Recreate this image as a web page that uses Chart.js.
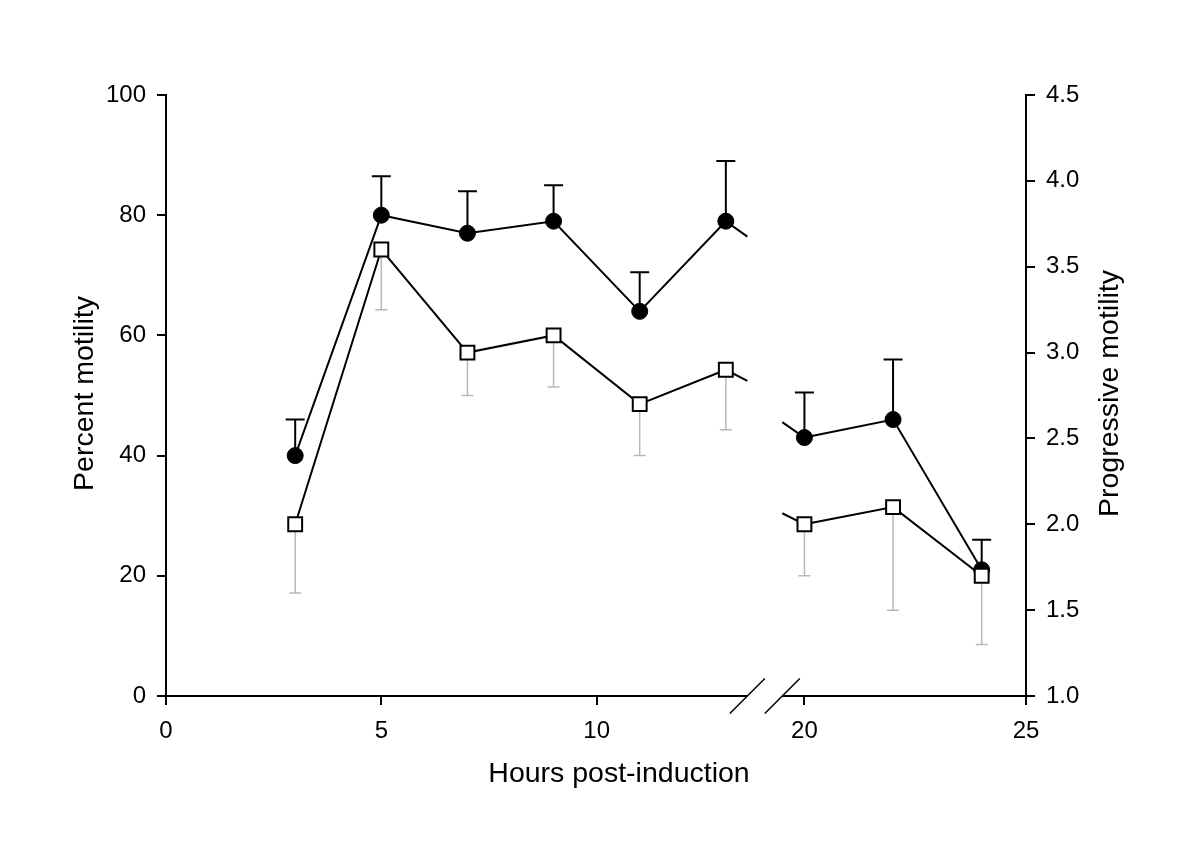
<!DOCTYPE html>
<html>
<head>
<meta charset="utf-8">
<title>Motility</title>
<script src="https://cdn.jsdelivr.net/npm/chart.js@4.4.1/dist/chart.umd.min.js"></script>
<style>
  html, body { margin: 0; padding: 0; background: #fff; }
</style>
</head>
<body>
<canvas id="motilityChart" width="1200" height="844"></canvas>
<script>
const hours = [3, 5, 7, 9, 11, 13, 20, 22, 24];
const percentMotility = [40, 80, 77, 79, 64, 79, 43, 46, 21];
const percentErr = [6, 6.5, 7, 6, 6.5, 10, 7.5, 10, 5];
const progressiveMotility = [2.0, 3.6, 3.0, 3.1, 2.7, 2.9, 2.0, 2.1, 1.7];
const progressiveErr = [0.4, 0.35, 0.25, 0.3, 0.3, 0.35, 0.3, 0.6, 0.4];
const hourTicks = [0, 5, 10, 20, 25];

// the x axis is cut between these two hours
const breakFrom = 13.5;
const breakTo = 19.5;

const FONT = "'Liberation Sans', Arial, sans-serif";

// linear scale with a gap in the middle
class BrokenLinearScale extends Chart.LinearScale {
    getPixelForValue(value) {
        if (value === null || isNaN(value)) return NaN;
        const leftPart = 0.676, gapPart = 0.0406;
        let f;
        if (value <= breakFrom) {
            f = (value - this.min) / (breakFrom - this.min) * leftPart;
        } else {
            f = leftPart + gapPart + (value - breakTo) / (this.max - breakTo) * (1 - leftPart - gapPart);
        }
        return this.getPixelForDecimal(f);
    }
}
BrokenLinearScale.id = 'brokenLinear';
BrokenLinearScale.defaults = Chart.LinearScale.defaults;
Chart.register(BrokenLinearScale);

const toPoints = (vals) => hours.map((h, i) => ({ x: h, y: vals[i] }));
const crossesBreak = (a, b) => a < breakFrom && b > breakTo;

const errorBarsAndBreak = {
    id: 'errorBarsAndBreak',
    beforeDatasetsDraw(chart) {
        const { ctx, scales } = chart;
        const x = scales.x;
        chart.data.datasets.forEach((ds, i) => {
            const meta = chart.getDatasetMeta(i);
            const yScale = scales[ds.yAxisID];
            // error bars go under the markers
            ctx.save();
            ctx.strokeStyle = ds.errorColor;
            ctx.lineWidth = ds.errorWidth;
            meta.data.forEach((pt, j) => {
                const v = ds.data[j].y;
                const yEnd = yScale.getPixelForValue(v + ds.errorDir * ds.errors[j]);
                ctx.beginPath();
                ctx.moveTo(pt.x, pt.y);
                ctx.lineTo(pt.x, yEnd);
                ctx.moveTo(pt.x - ds.capHalf, yEnd);
                ctx.lineTo(pt.x + ds.capHalf, yEnd);
                ctx.stroke();
            });
            ctx.restore();

            // line stubs on both sides of the break, with the real slope
            ctx.save();
            ctx.strokeStyle = ds.borderColor;
            ctx.lineWidth = ds.borderWidth;
            for (let j = 0; j < ds.data.length - 1; j++) {
                const a = ds.data[j], b = ds.data[j + 1];
                if (!crossesBreak(a.x, b.x)) continue;
                const slope = (b.y - a.y) / (b.x - a.x);
                ctx.beginPath();
                ctx.moveTo(x.getPixelForValue(a.x), yScale.getPixelForValue(a.y));
                ctx.lineTo(x.getPixelForValue(breakFrom), yScale.getPixelForValue(a.y + slope * (breakFrom - a.x)));
                ctx.moveTo(x.getPixelForValue(breakTo), yScale.getPixelForValue(b.y - slope * (b.x - breakTo)));
                ctx.lineTo(x.getPixelForValue(b.x), yScale.getPixelForValue(b.y));
                ctx.stroke();
            }
            ctx.restore();
        });
    },
    afterDraw(chart) {
        const { ctx, chartArea, scales } = chart;
        const x = scales.x;
        const gapL = x.getPixelForValue(breakFrom);
        const gapR = x.getPixelForValue(breakTo);
        const yb = chartArea.bottom;
        ctx.save();
        ctx.strokeStyle = '#000';
        ctx.lineWidth = 2;
        ctx.beginPath();
        ctx.moveTo(chartArea.left - 1, yb);
        ctx.lineTo(gapL, yb);
        ctx.moveTo(gapR, yb);
        ctx.lineTo(chartArea.right + 1, yb);
        ctx.stroke();
        ctx.lineWidth = 1.5;
        [gapL, gapR].forEach(px => {
            ctx.beginPath();
            ctx.moveTo(px - 17.5, yb + 17.5);
            ctx.lineTo(px + 17.5, yb - 17.5);
            ctx.stroke();
        });

        // axis titles
        ctx.fillStyle = '#000';
        ctx.font = '28.5px ' + FONT;
        ctx.textAlign = 'center';
        ctx.textBaseline = 'alphabetic';
        ctx.fillText('Hours post-induction', 619, 782);
        const midY = (chartArea.top + chartArea.bottom) / 2 - 2;
        ctx.textBaseline = 'middle';
        ctx.save();
        ctx.translate(85, midY);
        ctx.rotate(-Math.PI / 2);
        ctx.fillText('Percent motility', 0, 0);
        ctx.restore();
        ctx.save();
        ctx.translate(1110, midY);
        ctx.rotate(-Math.PI / 2);
        ctx.fillText('Progressive motility', 0, 0);
        ctx.restore();
        ctx.restore();
    }
};

const tickGrid = {
    drawOnChartArea: false,
    drawTicks: true,
    tickLength: 9,
    color: '#000',
    lineWidth: 2
};
const tickFont = { family: FONT, size: 24 };

// the segment that jumps over the break is drawn by the plugin instead
const hideBreakSegment = {
    borderColor: (c) => crossesBreak(c.p0.parsed.x, c.p1.parsed.x) ? 'rgba(0,0,0,0)' : undefined
};

const ctx = document.getElementById('motilityChart').getContext('2d');
new Chart(ctx, {
    type: 'line',
    data: {
        datasets: [
            {
                label: 'Progressive motility',
                data: toPoints(progressiveMotility),
                yAxisID: 'y2',
                borderColor: '#000',
                borderWidth: 2,
                segment: hideBreakSegment,
                pointStyle: 'rect',
                pointRadius: 9.8,
                pointBackgroundColor: '#fff',
                pointBorderColor: '#000',
                pointBorderWidth: 2,
                errors: progressiveErr,
                errorDir: -1,
                errorColor: '#b8b8b8',
                errorWidth: 1.5,
                capHalf: 6
            },
            {
                label: 'Percent motility',
                data: toPoints(percentMotility),
                yAxisID: 'y',
                borderColor: '#000',
                borderWidth: 2,
                segment: hideBreakSegment,
                pointStyle: 'circle',
                pointRadius: 8,
                pointBackgroundColor: '#000',
                pointBorderColor: '#000',
                pointBorderWidth: 1,
                errors: percentErr,
                errorDir: 1,
                errorColor: '#000',
                errorWidth: 2,
                capHalf: 9.5
            }
        ]
    },
    options: {
        responsive: false,
        devicePixelRatio: 1,
        animation: false,
        events: [],
        layout: { padding: { top: 95, left: 0, right: 0, bottom: 0 } },
        plugins: {
            legend: { display: false },
            tooltip: { enabled: false }
        },
        scales: {
            x: {
                type: 'brokenLinear',
                min: 0,
                max: 25,
                afterBuildTicks: (s) => { s.ticks = hourTicks.map(v => ({ value: v })); },
                afterFit: (s) => { s.height = 148; },
                border: { display: false },
                grid: tickGrid,
                ticks: { color: '#000', font: tickFont, padding: 12, maxRotation: 0, autoSkip: false }
            },
            y: {
                position: 'left',
                min: 0,
                max: 100,
                afterFit: (s) => { s.width = 166; },
                border: { display: true, color: '#000', width: 2 },
                grid: tickGrid,
                ticks: { stepSize: 20, color: '#000', font: tickFont, padding: 11 }
            },
            y2: {
                position: 'right',
                min: 1,
                max: 4.5,
                afterFit: (s) => { s.width = 174; },
                border: { display: true, color: '#000', width: 2 },
                grid: tickGrid,
                ticks: { stepSize: 0.5, color: '#000', font: tickFont, padding: 11, callback: (v) => v.toFixed(1) }
            }
        }
    },
    plugins: [errorBarsAndBreak]
});
</script>
</body>
</html>
